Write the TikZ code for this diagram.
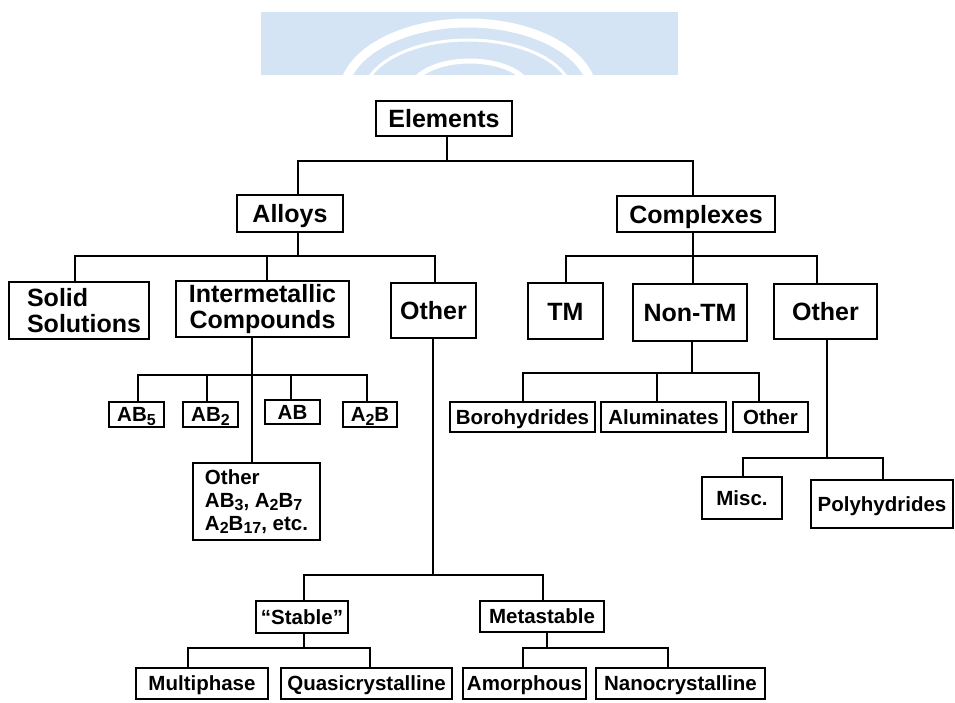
\documentclass[tikz,border=0pt]{standalone}
\usepackage{fontspec}
\setmainfont{Liberation Sans}
\usetikzlibrary{calc}
\newcommand\subx[1]{\raisebox{-0.3ex}{\fontsize{16}{16}\selectfont #1}}
\definecolor{wmblue}{RGB}{212,228,244}
\begin{document}
\begin{tikzpicture}[x=1pt,y=-1pt,
  box/.style={draw, line width=2.7pt, inner sep=0pt, align=center},
  big/.style={font=\fontsize{25}{26}\selectfont\bfseries},
  small/.style={font=\fontsize{20.5}{23}\selectfont\bfseries},
  oneb/.style={text height=18pt, text depth=0pt},
  ones/.style={text height=14.8pt, text depth=0pt},
  conn/.style={line width=1.8pt}]
\useasboundingbox (0,0) rectangle (955,702);
% watermark band
\begin{scope}
  \fill[wmblue] (261,12) rectangle (678,75);
  \clip (261,12) rectangle (678,75);
  \draw[white, line width=9pt] (468,95) ellipse [x radius=125, y radius=72];
  \draw[white, line width=3pt] (468,95) ellipse [x radius=104, y radius=55];
  \draw[white, line width=5pt] (470,92) ellipse [x radius=60, y radius=31];
\end{scope}
% level 0
\node[box,big,oneb,minimum width=136pt,minimum height=35pt] (elements) at (444,118.5) {Elements};
% level 1
\node[box,big,oneb,minimum width=106pt,minimum height=37pt] (alloys) at (290,213.5) {Alloys};
\node[box,big,oneb,minimum width=158pt,minimum height=36pt] (complexes) at (696,214) {Complexes};
% level 2
\node[box,big,minimum width=140pt,minimum height=57pt,align=left] (solid) at (79,310.5) {\hspace*{10pt}Solid\\\hspace*{10pt}Solutions};
\node[box,big,minimum width=173pt,minimum height=56pt] (inter) at (262.5,309) {Intermetallic\\Compounds};
\node[box,big,oneb,minimum width=85pt,minimum height=55pt] (aother) at (433.5,310.5) {Other};
\node[box,big,oneb,minimum width=75pt,minimum height=56pt] (tm) at (565.5,311) {TM};
\node[box,big,oneb,minimum width=114pt,minimum height=57pt] (nontm) at (690,312.5) {Non-TM};
\node[box,big,oneb,minimum width=103pt,minimum height=55pt] (cother) at (825.5,311.5) {Other};
% intermetallic children
\node[box,small,ones,minimum width=55pt,minimum height=25pt] (ab5) at (136.5,414.5) {AB\subx{5}};
\node[box,small,ones,minimum width=55pt,minimum height=25pt] (ab2) at (210.5,414.5) {AB\subx{2}};
\node[box,small,ones,minimum width=55pt,minimum height=24pt] (ab) at (292.5,412) {AB};
\node[box,small,ones,minimum width=54pt,minimum height=25pt] (a2b) at (370,414.5) {A\subx{2}B};
\node[box,small,minimum width=127pt,minimum height=77pt,align=left] (iother) at (256.5,501.5) {Other\\AB\subx{3}, A\subx{2}B\subx{7}\\A\subx{2}B\subx{17}, etc.};
% non-TM children
\node[box,small,ones,minimum width=145pt,minimum height=30pt] (boro) at (522.5,417) {Borohydrides};
\node[box,small,ones,minimum width=125pt,minimum height=30pt] (alum) at (663.5,417) {Aluminates};
\node[box,small,ones,minimum width=75pt,minimum height=30pt] (nother) at (770.5,417) {Other};
% complexes other children
\node[box,small,ones,minimum width=80pt,minimum height=42pt] (misc) at (742,498) {Misc.};
\node[box,small,ones,minimum width=142pt,minimum height=48pt] (poly) at (882,504) {Polyhydrides};
% alloys other children
\node[box,small,ones,minimum width=92pt,minimum height=32pt] (stable) at (302,617) {“Stable”};
\node[box,small,ones,minimum width=124pt,minimum height=31pt] (meta) at (542,616.5) {Metastable};
\node[box,small,ones,minimum width=132pt,minimum height=31pt] (multi) at (202,683.5) {Multiphase};
\node[box,small,ones,minimum width=171pt,minimum height=31pt] (quasi) at (366.5,683.5) {Quasicrystalline};
\node[box,small,ones,minimum width=123pt,minimum height=31pt] (amor) at (524.5,683.5) {Amorphous};
\node[box,small,ones,minimum width=169pt,minimum height=31pt] (nano) at (680.5,683.5) {Nanocrystalline};
% junctions
\coordinate (j0) at (447,161);
\coordinate (j1) at (298,256);
\coordinate (j2) at (693,256);
\coordinate (j3) at (252,375);
\coordinate (j4) at (692,373);
\coordinate (j5) at (827,458);
\coordinate (j6) at (433,575);
\coordinate (j7) at (304,648);
\coordinate (j8) at (547,648);
% shifted attachment points
\coordinate (pInter) at ([xshift=4.5pt]inter.north);
\coordinate (pAB2) at ([xshift=-3.5pt]ab2.north);
\coordinate (pAB) at ([xshift=-1.5pt]ab.north);
\coordinate (pAlum) at ([xshift=-6.5pt]alum.north);
\coordinate (pNonTM) at ([xshift=3pt]nontm.north);
% connectors
\draw[conn] ([xshift=3pt]elements.south) -- (j0);
\draw[conn] ([xshift=8pt]alloys.north) |- (j0) -| ([xshift=-3pt]complexes.north);
\draw[conn] ([xshift=8pt]alloys.south) -- (j1);
\draw[conn] ([xshift=-4pt]solid.north) |- (j1) -| ([xshift=1.5pt]aother.north);
\draw[conn] (pInter) -- (pInter |- j1);
\draw[conn] ([xshift=-3pt]complexes.south) -- (j2);
\draw[conn] ([xshift=0.5pt]tm.north) |- (j2) -| ([xshift=-8.5pt]cother.north);
\draw[conn] (pNonTM) -- (pNonTM |- j2);
\draw[conn] ([xshift=-10.5pt]inter.south) -- ([xshift=-4.5pt]iother.north);
\draw[conn] ([xshift=1.5pt]ab5.north) |- (j3) -| ([xshift=-3pt]a2b.north);
\draw[conn] (pAB2) -- (pAB2 |- j3);
\draw[conn] (pAB) -- (pAB |- j3);
\draw[conn] ([xshift=2pt]nontm.south) -- (j4);
\draw[conn] ([xshift=0.5pt]boro.north) |- (j4) -| ([xshift=-11.5pt]nother.north);
\draw[conn] (pAlum) -- (pAlum |- j4);
\draw[conn] ([xshift=1.5pt]cother.south) -- (j5);
\draw[conn] ([xshift=1pt]misc.north) |- (j5) -| ([xshift=1pt]poly.north);
\draw[conn] ([xshift=-0.5pt]aother.south) -- (j6);
\draw[conn] ([xshift=2pt]stable.north) |- (j6) -| ([xshift=1pt]meta.north);
\draw[conn] ([xshift=2pt]stable.south) -- (j7);
\draw[conn] ([xshift=-14pt]multi.north) |- (j7) -| ([xshift=3.5pt]quasi.north);
\draw[conn] ([xshift=5pt]meta.south) -- (j8);
\draw[conn] ([xshift=-1.5pt]amor.north) |- (j8) -| ([xshift=-12.5pt]nano.north);
\end{tikzpicture}
\end{document}
